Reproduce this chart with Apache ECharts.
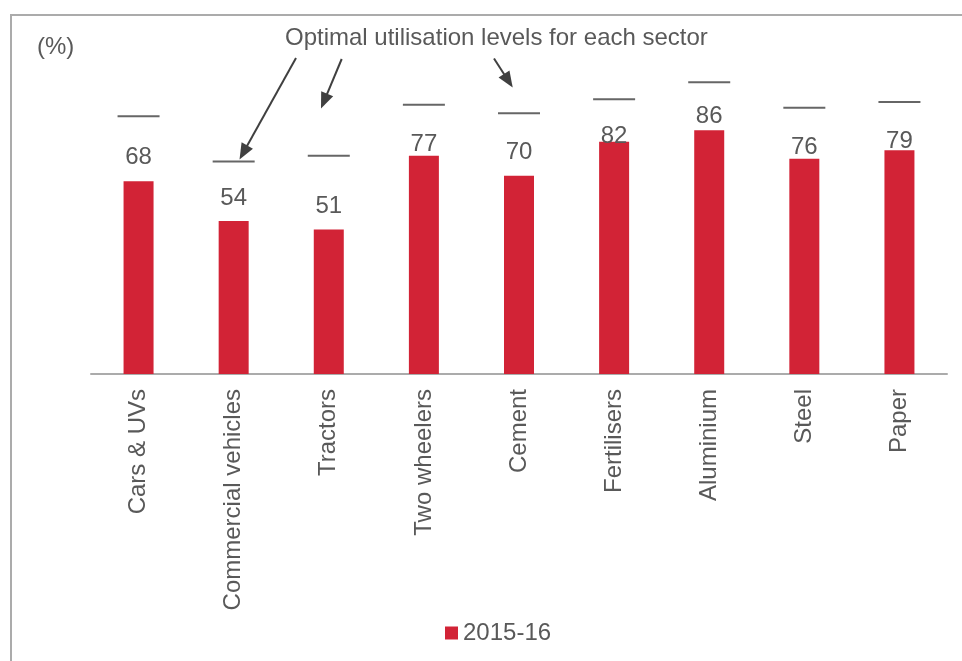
<!DOCTYPE html>
<html>
<head>
<meta charset="utf-8">
<script src="https://cdn.jsdelivr.net/npm/echarts@6/dist/echarts.min.js"></script>
<style>
  html, body { margin: 0; padding: 0; background: #ffffff; }
  #chart { width: 962px; height: 661px; }
</style>
</head>
<body>
<div id="chart"></div>
<script>
// Capacity utilisation by sector, 2015-16, with the optimal level per sector
const sectors = ['Cars & UVs', 'Commercial vehicles', 'Tractors', 'Two wheelers', 'Cement', 'Fertilisers', 'Aluminium', 'Steel', 'Paper'];
const utilisation = [68, 54, 51, 77, 70, 82, 86, 76, 79];
const optimalLevel = [91, 75, 77, 95, 92, 97, 103, 94, 96];
const seriesName = '2015-16';

// How far each value label's centre sits above its bar (px)
const labelLift = [23.5, 22.5, 23.5, 11.5, 23.5, 5.5, 13.5, 11.5, 8.5];

const FONT = '"Liberation Sans", Arial, sans-serif';
const TEXT = '#595959';
const DARK = '#404040';
const RED = '#D22336';
const FRAME = '#ABABAB';

const chart = echarts.init(document.getElementById('chart'), null, { renderer: 'canvas' });

// Callout arrow: a shaft and a filled triangular head ending at the tip
function arrow(x1, y1, x2, y2) {
  const len = Math.hypot(x2 - x1, y2 - y1);
  const ux = (x2 - x1) / len, uy = (y2 - y1) / len;
  const headLen = 16, halfW = 6.5;
  const bx = x2 - ux * headLen, by = y2 - uy * headLen;
  const px = -uy, py = ux;
  return [
    { type: 'line', silent: true,
      shape: { x1: x1, y1: y1, x2: bx + ux * 2, y2: by + uy * 2 },
      style: { stroke: DARK, lineWidth: 2 } },
    { type: 'polygon', silent: true,
      shape: { points: [[x2, y2], [bx + px * halfW, by + py * halfW], [bx - px * halfW, by - py * halfW]] },
      style: { fill: DARK } }
  ];
}

const option = {
  animation: false,
  backgroundColor: '#ffffff',
  textStyle: { fontFamily: FONT },
  grid: { left: 91, right: 15, top: 34, bottom: 287 },
  legend: {
    data: [seriesName],
    left: 445,
    top: 621,
    padding: 0,
    itemWidth: 13,
    itemHeight: 13,
    itemGap: 5,
    icon: 'rect',
    textStyle: { color: TEXT, fontSize: 24, fontFamily: FONT }
  },
  xAxis: {
    type: 'category',
    data: sectors,
    axisLine: { lineStyle: { color: FRAME, width: 2 } },
    axisTick: { show: false },
    axisLabel: {
      rotate: 90,
      interval: 0,
      margin: 15,
      color: TEXT,
      fontSize: 24,
      fontFamily: FONT
    }
  },
  yAxis: {
    type: 'value',
    min: 0,
    max: 120,
    show: false,
    splitLine: { show: false }
  },
  series: [
    {
      name: seriesName,
      type: 'bar',
      barWidth: 30,
      itemStyle: { color: RED },
      data: utilisation.map((v, i) => ({
        value: v,
        label: { offset: [0, 12 - labelLift[i]] }
      })),
      label: {
        show: true,
        position: 'top',
        distance: 0,
        color: TEXT,
        fontSize: 24,
        fontFamily: FONT
      }
    },
    {
      name: 'Optimal',
      type: 'scatter',
      symbol: 'rect',
      symbolSize: [42, 2],
      itemStyle: { color: DARK },
      silent: true,
      data: optimalLevel
    }
  ],
  graphic: [
    { type: 'rect', silent: true, z: -1,
      shape: { x: 11, y: 15, width: 1000, height: 700 },
      style: { fill: 'none', stroke: FRAME, lineWidth: 2 } },
    { type: 'text', silent: true, x: 37, y: 47,
      style: { text: '(%)', fill: TEXT, font: '24px ' + FONT, textVerticalAlign: 'middle' } },
    { type: 'text', silent: true, x: 285, y: 38,
      style: { text: 'Optimal utilisation levels for each sector', fill: TEXT, font: '24px ' + FONT, textVerticalAlign: 'middle' } },
    ...arrow(296, 58, 239.5, 159.5),
    ...arrow(341.7, 59, 321, 108.5),
    ...arrow(494, 58.5, 512.7, 87.5)
  ]
};

chart.setOption(option);
</script>
</body>
</html>
